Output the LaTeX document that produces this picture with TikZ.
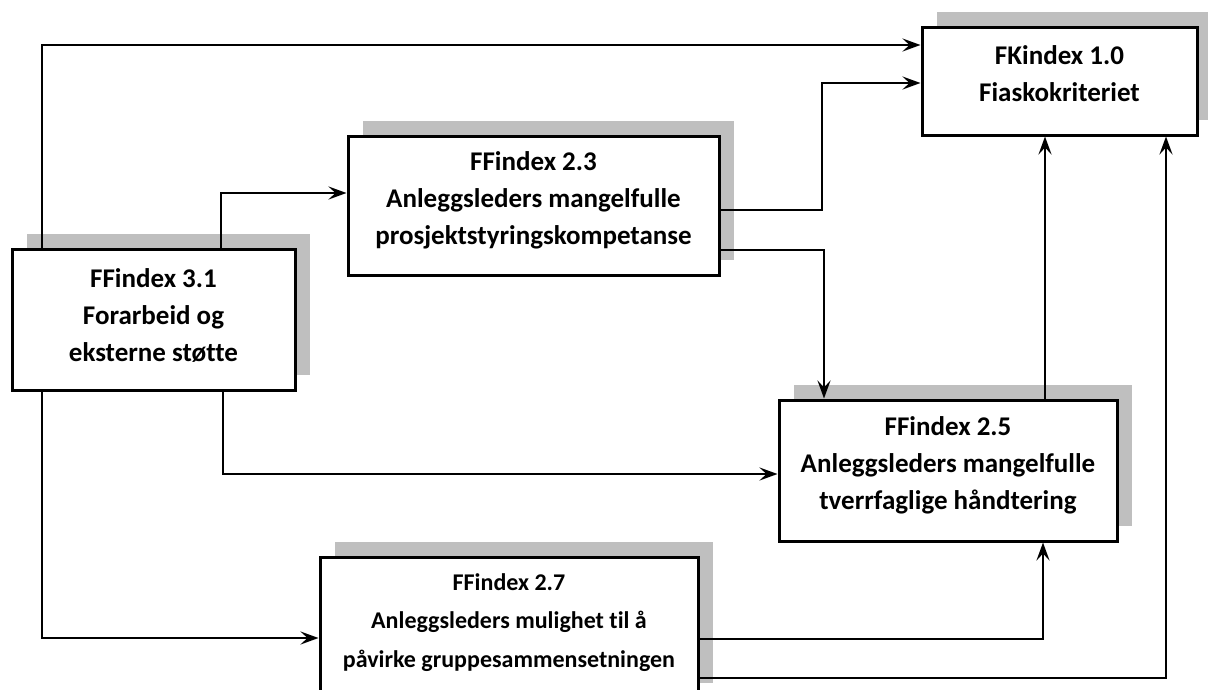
\documentclass[tikz,border=0pt]{standalone}
\usepackage{fontspec}
\setmainfont{Carlito}[Ligatures=NoCommon]
\usetikzlibrary{arrows.meta,shadows}
\definecolor{shadowgray}{HTML}{BFBFBF}
\tikzset{
  factor/.style={draw=black, line width=3pt, fill=white, rectangle, inner sep=0pt,
    drop shadow={shadow xshift=15pt, shadow yshift=15pt, fill=shadowgray, opacity=1}},
  caption/.style={align=center, inner sep=0pt, font=\bfseries\fontsize{27}{37}\selectfont},
  small caption/.style={caption, font=\bfseries\fontsize{24}{38.5}\selectfont},
  link/.style={line width=2.6pt, -{Stealth[length=18pt,width=13pt,inset=7pt]}}
}
\begin{document}
\begin{tikzpicture}[x=1pt,y=-1pt]
\useasboundingbox (0,0) rectangle (1208,689);
\fill[white] (0,0) rectangle (1208,689);
\clip (0,0) rectangle (1208,689);

% factor boxes
\node[factor, minimum width=275pt, minimum height=108pt] (fk) at (1059.5,81) {};
\node[factor, minimum width=371pt, minimum height=139pt] (n23) at (533.5,205.5) {};
\node[factor, minimum width=283pt, minimum height=141pt] (n31) at (153.5,319.5) {};
\node[factor, minimum width=338pt, minimum height=141pt] (n25) at (948,470.5) {};
\node[factor, minimum width=378pt, minimum height=141pt] (n27) at (509,627.5) {};

% box captions
\node[caption] (fk-t) at ([yshift=7pt]fk.center) {FKindex 1.0\\Fiaskokriteriet};
\node[caption] (n23-t) at ([yshift=5pt]n23.center)
  {FFindex 2.3\\Anleggsleders mangelfulle\\prosjektstyringskompetanse};
\node[caption] (n31-t) at ([yshift=4pt]n31.center)
  {FFindex 3.1\\Forarbeid og\\eksterne støtte};
\node[caption] (n25-t) at ([yshift=5pt]n25.center)
  {FFindex 2.5\\Anleggsleders mangelfulle\\tverrfaglige håndtering};
\node[small caption] (n27-t) at ([yshift=5pt]n27.center)
  {FFindex 2.7\\Anleggsleders mulighet til å\\påvirke gruppesammensetningen};

% influence connectors
\draw[link] (n31.north -| 42,0) |- (fk.west |- 0,45);
\draw[link] (n31.north -| 221,0) |- (n23.west |- 0,193);
\draw[link] (n23.east |- 0,210) -- (822,210) |- (fk.west |- 0,83);
\draw[link] (n23.east |- 0,250) -| (n25.north -| 824,0);
\draw[link] (n31.south -| 223,0) |- (n25.west |- 0,474);
\draw[link] (n31.south -| 42,0) |- (n27.west |- 0,638);
\draw[link] (n27.east |- 0,639) -| (n25.south -| 1043,0);
\draw[link] (n27.east |- 0,678) -| (fk.south -| 1166,0);
\draw[link] (n25.north -| 1045,0) -- (fk.south -| 1045,0);
\end{tikzpicture}
\end{document}
